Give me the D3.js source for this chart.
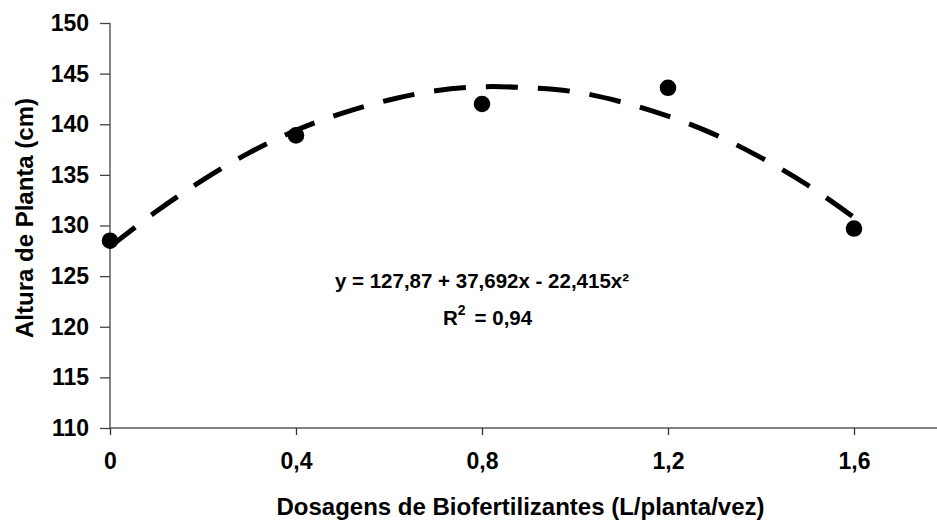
<!DOCTYPE html>
<html><head><meta charset="utf-8">
<script src="https://cdn.jsdelivr.net/npm/d3@7/dist/d3.min.js"></script>
<style>
html,body{margin:0;padding:0;background:#fff;}
svg{display:block;font-family:"Liberation Sans",Arial,sans-serif;font-weight:bold;}
</style></head>
<body>
<svg id="chart" width="937" height="521"></svg>
<script>
// Observed data
const doses = [0, 0.4, 0.8, 1.2, 1.6];
const heights = [128.5, 138.9, 142.0, 143.6, 129.7];
// Trend line
const trendX = [0, 0.1, 0.2, 0.3, 0.4, 0.5, 0.6, 0.7, 0.8, 0.9, 1.0, 1.1, 1.2, 1.3, 1.4, 1.5, 1.6];
const trendY = [127.9, 131.4, 134.5, 137.2, 139.4, 141.1, 142.4, 143.3, 143.7, 143.6, 143.2, 142.2, 140.8, 139.0, 136.7, 134.0, 130.8];
// Axis ticks
const xTicks = [0, 0.4, 0.8, 1.2, 1.6];
const xTickLabels = ["0", "0,4", "0,8", "1,2", "1,6"];
const yTicks = [110, 115, 120, 125, 130, 135, 140, 145, 150];
const equationText = "y = 127,87 + 37,692x - 22,415x²";
const r2Label = "R";
const r2Value = "= 0,94";

const svg = d3.select("#chart");
const x = d3.scaleLinear().domain([0, 1.8]).range([110, 947]);
const y = d3.scaleLinear().domain([110, 150]).range([428, 23]);

// Y axis
const yAxis = svg.append("g").attr("transform", "translate(110,0)")
  .call(d3.axisLeft(y).tickValues(yTicks).tickSize(10).tickPadding(11).tickFormat(d3.format("d")));
yAxis.select(".domain").attr("stroke", "#444").attr("stroke-width", 1.3).attr("d", "M0," + y(150) + "V" + y(110));
yAxis.selectAll(".tick line").attr("stroke", "#444").attr("stroke-width", 1.3);
yAxis.selectAll(".tick text").attr("font-size", 23).attr("fill", "#000");

// X axis
const xAxis = svg.append("g").attr("transform", "translate(0,428)")
  .call(d3.axisBottom(x).tickValues(xTicks).tickSize(7).tickPadding(18).tickFormat((d, i) => xTickLabels[i]));
xAxis.select(".domain").attr("stroke", "#808080").attr("stroke-width", 2).attr("d", "M110,0H937");
xAxis.selectAll(".tick line").attr("stroke", "#333").attr("stroke-width", 1.3);
xAxis.selectAll(".tick text").attr("font-size", 23).attr("fill", "#000");

// Trend line
const line = d3.line().x((d, i) => x(trendX[i])).y(d => y(d)).curve(d3.curveCatmullRom);
svg.append("path").datum(trendY).attr("d", line)
  .attr("fill", "none").attr("stroke", "#000").attr("stroke-width", 5)
  .attr("stroke-dasharray", "32,20");

// Points
svg.append("g").selectAll("circle").data(heights).join("circle")
  .attr("cx", (d, i) => x(doses[i])).attr("cy", d => y(d)).attr("r", 8.3).attr("fill", "#000");

// Equation
svg.append("text").attr("x", x(0.8)).attr("y", 288).attr("text-anchor", "middle")
  .attr("font-size", 20.5).text(equationText);
const r2 = svg.append("text").attr("x", 443).attr("y", 325).attr("font-size", 20.5);
r2.append("tspan").text(r2Label);
r2.append("tspan").attr("font-size", 14).attr("dy", -10).text("2");
r2.append("tspan").attr("dy", 10).attr("dx", 9).text(r2Value);

// Axis titles
svg.append("text").attr("x", (110 + 937) / 2 - 3).attr("y", 515).attr("text-anchor", "middle")
  .attr("font-size", 24).text("Dosagens de Biofertilizantes (L/planta/vez)");
svg.append("text").attr("transform", "translate(33,218) rotate(-90)").attr("text-anchor", "middle")
  .attr("font-size", 24).text("Altura de Planta (cm)");
</script>
</body></html>
